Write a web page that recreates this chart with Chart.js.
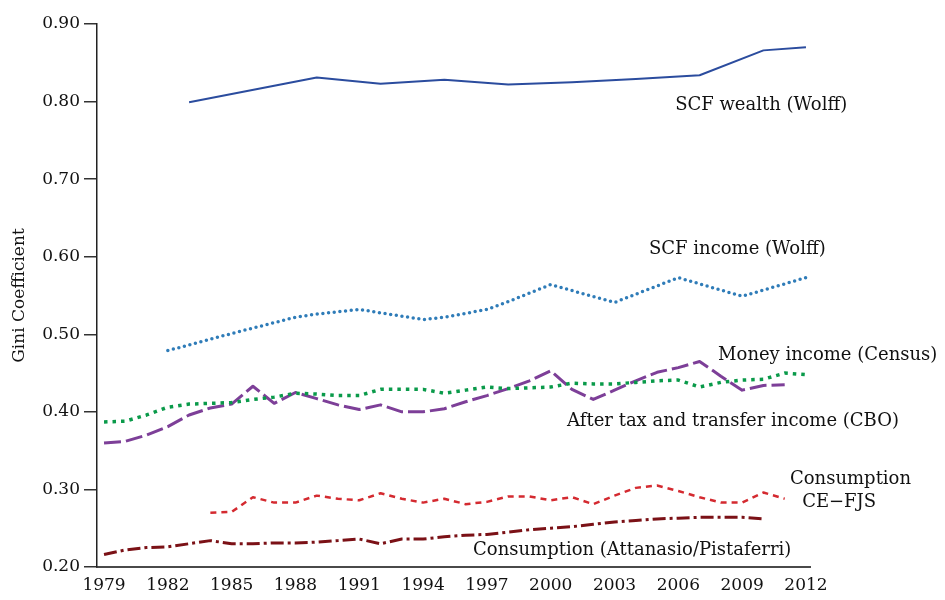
<!DOCTYPE html>
<html>
<head>
<meta charset="utf-8">
<script src="https://cdn.jsdelivr.net/npm/chart.js@4"></script>
<style>
  html, body { margin: 0; padding: 0; background: #fff; }
  #wrap { width: 945px; height: 600px; }
</style>
</head>
<body>
<div id="wrap"><canvas id="gini" width="945" height="600"></canvas></div>
<script>
// tick labels on the x axis
const tickYears = [1979, 1982, 1985, 1988, 1991, 1994, 1997, 2000, 2003, 2006, 2009, 2012];

// SCF wealth (Wolff)
const wealthYears = [1983, 1989, 1992, 1995, 1998, 2001, 2004, 2007, 2010, 2012];
const wealthGini = [0.799, 0.831, 0.823, 0.828, 0.822, 0.825, 0.829, 0.834, 0.866, 0.870];

// SCF income (Wolff)
const scfIncYears = [1982, 1985, 1988, 1989, 1991, 1994, 1995, 1997, 1998, 2000, 2003, 2006, 2009, 2012];
const scfIncGini = [0.479, 0.501, 0.522, 0.526, 0.532, 0.519, 0.522, 0.532, 0.542, 0.564, 0.541, 0.573, 0.549, 0.573];

// Money income (Census), 1979-2012
const censusYears = [1979, 1980, 1981, 1982, 1983, 1984, 1985, 1986, 1987, 1988, 1989, 1990, 1991, 1992, 1993, 1994, 1995,
                     1996, 1997, 1998, 1999, 2000, 2001, 2002, 2003, 2004, 2005, 2006, 2007, 2008, 2009, 2010, 2011, 2012];
const censusGini = [0.387, 0.388, 0.396, 0.406, 0.410, 0.411, 0.412, 0.416, 0.419, 0.424, 0.423, 0.421, 0.421, 0.429, 0.429, 0.429, 0.424,
                    0.428, 0.432, 0.430, 0.431, 0.432, 0.437, 0.436, 0.436, 0.438, 0.440, 0.441, 0.432, 0.438, 0.441, 0.442, 0.450, 0.448];

// After tax and transfer income (CBO), 1979-2011
const cboYears = [1979, 1980, 1981, 1982, 1983, 1984, 1985, 1986, 1987, 1988, 1989, 1990, 1991, 1992, 1993, 1994, 1995,
                  1996, 1997, 1998, 1999, 2000, 2001, 2002, 2003, 2004, 2005, 2006, 2007, 2008, 2009, 2010, 2011];
const cboGini = [0.360, 0.362, 0.370, 0.381, 0.396, 0.405, 0.410, 0.433, 0.411, 0.425, 0.417, 0.409, 0.403, 0.409, 0.400, 0.400, 0.404,
                 0.413, 0.421, 0.430, 0.440, 0.453, 0.429, 0.416, 0.428, 0.440, 0.451, 0.457, 0.465, 0.446, 0.428, 0.434, 0.435];

// Consumption CE-FJS, 1984-2011
const ceYears = [1984, 1985, 1986, 1987, 1988, 1989, 1990, 1991, 1992, 1993, 1994, 1995, 1996, 1997,
                 1998, 1999, 2000, 2001, 2002, 2003, 2004, 2005, 2006, 2007, 2008, 2009, 2010, 2011];
const ceGini = [0.270, 0.271, 0.290, 0.283, 0.283, 0.292, 0.288, 0.286, 0.295, 0.288, 0.283, 0.288, 0.281, 0.284,
                0.291, 0.291, 0.286, 0.290, 0.281, 0.292, 0.302, 0.305, 0.298, 0.290, 0.283, 0.283, 0.296, 0.288];

// Consumption (Attanasio/Pistaferri), 1979-2010
const apYears = [1979, 1980, 1981, 1982, 1983, 1984, 1985, 1986, 1987, 1988, 1989, 1990, 1991, 1992, 1993, 1994,
                 1995, 1996, 1997, 1998, 1999, 2000, 2001, 2002, 2003, 2004, 2005, 2006, 2007, 2008, 2009, 2010];
const apGini = [0.216, 0.222, 0.225, 0.226, 0.230, 0.234, 0.230, 0.230, 0.231, 0.231, 0.232, 0.234, 0.236, 0.230, 0.236, 0.236,
                0.239, 0.241, 0.242, 0.245, 0.248, 0.250, 0.252, 0.255, 0.258, 0.260, 0.262, 0.263, 0.264, 0.264, 0.264, 0.262];

// text labels next to the lines (data coordinates)
const seriesLabels = [
    { text: 'SCF wealth (Wolff)', x: 2005.85, y: 0.795 },
    { text: 'SCF income (Wolff)', x: 2004.62, y: 0.609 },
    { text: 'Money income (Census)', x: 2007.87, y: 0.473 },
    { text: 'After tax and transfer income (CBO)', x: 2000.77, y: 0.388 },
    { text: 'Consumption', x: 2011.25, y: 0.313 },
    { text: 'CE\u2212FJS', x: 2011.82, y: 0.284 },
    { text: 'Consumption (Attanasio/Pistaferri)', x: 1996.35, y: 0.222 }
];

const FONT = '"DejaVu Serif", "Liberation Serif", serif';

function pts(xs, ys) { return xs.map((x, i) => ({ x, y: ys[i] })); }

function series(label, xs, ys, color, width, dash, cap) {
    return {
        label,
        data: pts(xs, ys),
        borderColor: color,
        backgroundColor: color,
        borderWidth: width,
        borderDash: dash,
        borderCapStyle: cap || 'butt',
        borderJoinStyle: 'round',
        pointRadius: 0,
        fill: false,
        tension: 0
    };
}

const labelPlugin = {
    id: 'seriesLabels',
    afterDatasetsDraw(chart) {
        const { ctx, scales: { x, y } } = chart;
        ctx.save();
        ctx.font = '18px ' + FONT;
        ctx.fillStyle = '#111';
        ctx.textAlign = 'left';
        ctx.textBaseline = 'middle';
        seriesLabels.forEach(l => {
            ctx.fillText(l.text, x.getPixelForValue(l.x), y.getPixelForValue(l.y));
        });
        ctx.restore();
    }
};

new Chart(document.getElementById('gini'), {
    type: 'line',
    data: {
        datasets: [
            series('SCF wealth (Wolff)', wealthYears, wealthGini, '#2b4c9e', 2, []),
            series('SCF income (Wolff)', scfIncYears, scfIncGini, '#2f7cb8', 3.5, [0, 5.7], 'round'),
            series('Money income (Census)', censusYears, censusGini, '#0a9a4a', 3.5, [3.5, 5]),
            series('After tax and transfer income (CBO)', cboYears, cboGini, '#7d3f98', 3, [17, 5]),
            series('Consumption CE-FJS', ceYears, ceGini, '#d42a30', 2.5, [6, 5]),
            series('Consumption (Attanasio/Pistaferri)', apYears, apGini, '#7b1116', 3, [13, 4, 3, 4])
        ]
    },
    options: {
        responsive: false,
        animation: false,
        layout: { padding: { top: 24, right: 135, left: 0, bottom: 0 } },
        plugins: {
            legend: { display: false },
            tooltip: { enabled: false }
        },
        scales: {
            x: {
                type: 'linear',
                min: 1978.67,
                max: 2012.19,
                afterFit(scale) { scale.height = 33; },
                afterBuildTicks(scale) { scale.ticks = tickYears.map(v => ({ value: v })); },
                grid: { drawOnChartArea: false, drawTicks: false },
                border: { display: true, color: '#4a4a4a', width: 2 },
                ticks: {
                    padding: 8,
                    color: '#111',
                    font: { family: FONT, size: 17 },
                    callback: v => String(v),
                    maxRotation: 0,
                    autoSkip: false
                }
            },
            y: {
                min: 0.2,
                max: 0.9,
                afterFit(scale) { scale.width = 97; },
                grid: { drawOnChartArea: false, drawTicks: true, tickLength: 13, color: '#333', lineWidth: 1.5 },
                border: { display: true, color: '#222', width: 1.5 },
                ticks: {
                    stepSize: 0.1,
                    padding: 4,
                    color: '#111',
                    font: { family: FONT, size: 17 },
                    callback: v => Number(v).toFixed(2)
                },
                title: {
                    display: true,
                    text: 'Gini Coefficient',
                    color: '#111',
                    font: { family: FONT, size: 17 },
                    padding: { top: 9, bottom: 0 }
                }
            }
        }
    },
    plugins: [labelPlugin]
});
</script>
</body>
</html>
